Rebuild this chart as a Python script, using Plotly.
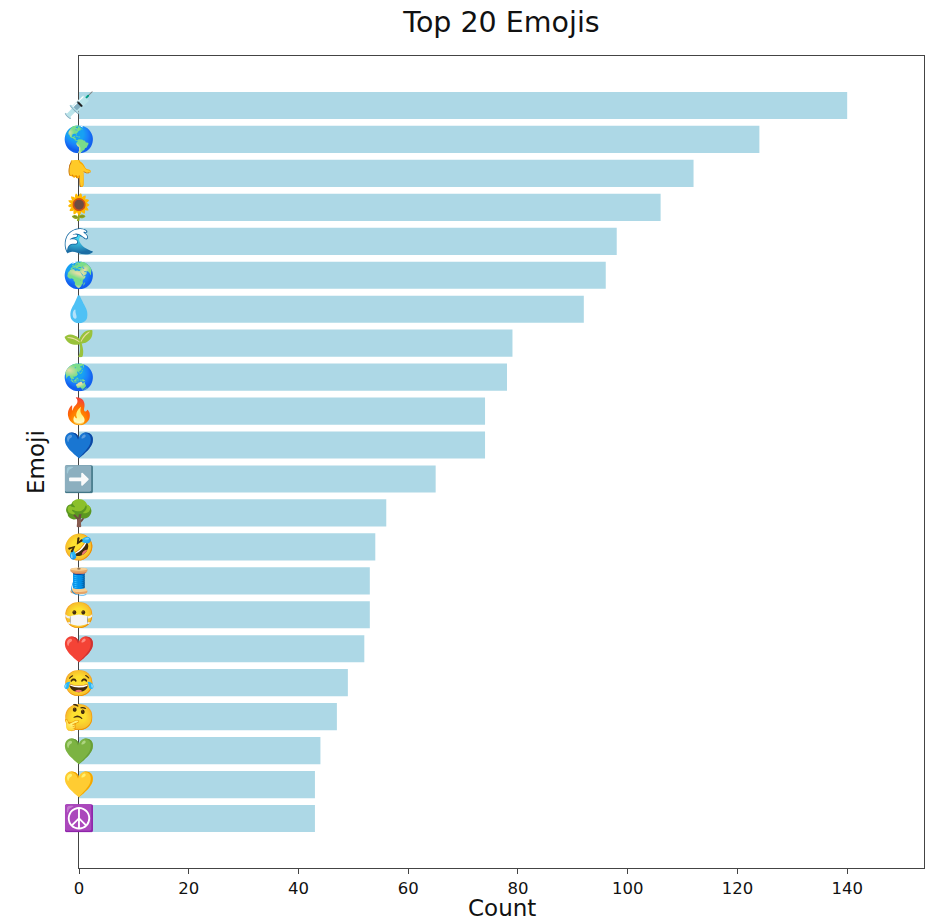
import plotly.graph_objects as go

emojis = ["💉","🌎","👇","🌻","🌊","🌍","💧","🌱","🌏","🔥","💙","➡️","🌳","🤣","🧵","😷","❤️","😂","🤔","💚","💛","☮️"]
counts = [140,124,112,106,98,96,92,79,78,74,74,65,56,54,53,53,52,49,47,44,43,43]
rows = list(range(len(emojis)))

fig = go.Figure(go.Bar(x=counts, y=rows, orientation="h", width=0.8,
                       marker=dict(color="#add8e6", line=dict(width=0)), showlegend=False))
fig.update_layout(
    width=930, height=917, autosize=False, paper_bgcolor="white", plot_bgcolor="white",
    margin=dict(l=79, r=6, t=56, b=49),
    font=dict(family="DejaVu Sans", color="#111111"),
    title=dict(text="Top 20 Emojis", x=0.5, xref="paper", xanchor="center", y=0.976, yanchor="middle", font=dict(size=28.5)),
    annotations=[dict(text="Count", xref="paper", yref="paper", x=0.5, y=-0.0493, xanchor="center", yanchor="middle",
                      showarrow=False, font=dict(size=23))],
)
fig.update_xaxes(range=[0,154], tickvals=list(range(0,160,20)), ticks="outside", ticklen=5, tickwidth=1, tickcolor="#444444", automargin=False,
                 tickfont=dict(size=16.5), showgrid=False, zeroline=False, showline=True, linecolor="#444444", linewidth=1, mirror=True)
fig.update_yaxes(range=[22.458,-1.458], tickmode="array", tickvals=rows, ticktext=emojis, ticks="", automargin=False,
                 ticklabelstandoff=-22,
                 tickfont=dict(size=25.5, family="Noto Color Emoji, DejaVu Sans"), showgrid=False, zeroline=False, showline=True, linecolor="#444444", linewidth=1, mirror=True,
                 title=dict(text="Emoji", font=dict(size=23), standoff=11))
fig.write_html("out.html", config={"displayModeBar": False},
               post_script="document.body.style.margin='0';document.documentElement.style.overflow='hidden';")
